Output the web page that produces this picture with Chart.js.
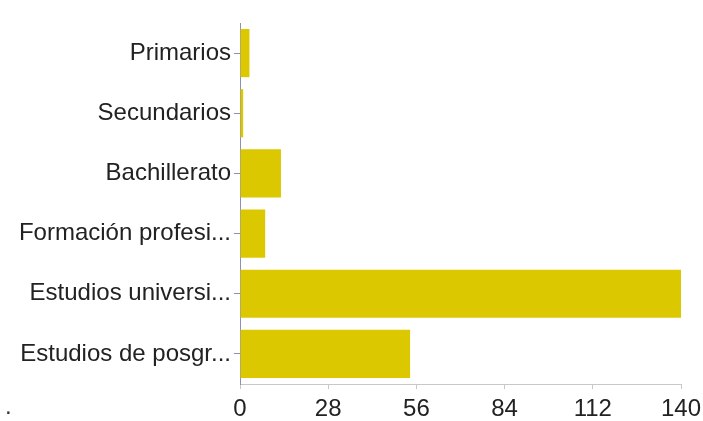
<!DOCTYPE html>
<html>
<head>
   <meta charset="utf-8">
   <script src="https://cdn.jsdelivr.net/npm/chart.js@4"></script>
   <title>Estudios</title>
   <style>
      body { margin: 0; background: #fff; }
      #wrap { width: 703px; height: 421px; }
   </style>
</head>
<body>
   <div id="wrap">
      <canvas id="bar-chart" width="703" height="421"></canvas>
   </div>
<script>
   // datos
   const labels = ["Primarios", "Secundarios", "Bachillerato", "Formación profesi...", "Estudios universi...", "Estudios de posgr..."];
   const values = [3, 1, 13, 8, 140, 54];
   const xTicks = [0, 28, 56, 84, 112, 140];

   const font = { family: '"Liberation Sans", Arial, sans-serif', size: 24 };

   // the stray dot bottom left
   const dotPlugin = {
      id: 'dot',
      afterDraw(chart) {
         const c = chart.ctx;
         c.save();
         c.fillStyle = '#333';
         c.font = '24px "Liberation Sans", Arial, sans-serif';
         c.textBaseline = 'alphabetic';
         c.fillText('.', 5, 414);
         c.restore();
      }
   };

   new Chart(document.getElementById("bar-chart"), {
      type: 'bar',
      data: {
         labels: labels,
         datasets: [{
            data: values,
            backgroundColor: '#dcc800',
            barPercentage: 0.8,
            categoryPercentage: 1.0
         }]
      },
      plugins: [dotPlugin],
      options: {
         indexAxis: 'y',
         responsive: false,
         animation: false,
         layout: { padding: { top: 23, right: 22, left: 0, bottom: 0 } },
         plugins: { legend: { display: false }, tooltip: { enabled: false } },
         scales: {
            x: {
               min: 0,
               max: 140,
               afterBuildTicks: (s) => { s.ticks = xTicks.map(v => ({ value: v })); },
               afterFit: (s) => { s.height = 37; s.paddingRight = 0; s.paddingLeft = 0; },
               border: { display: true, color: '#c8c8c8', width: 1 },
               grid: { drawOnChartArea: false, tickLength: 5, color: '#c8c8c8' },
               ticks: { color: '#222', padding: 6, font: font }
            },
            y: {
               afterFit: (s) => { s.width = 240; },
               border: { display: true, color: '#8c90b4', width: 1 },
               grid: { drawOnChartArea: false, offset: false, tickLength: 6, color: '#8c90b4' },
               ticks: { color: '#222', padding: 3, font: font }
            }
         }
      }
   });
</script>
</body>
</html>
